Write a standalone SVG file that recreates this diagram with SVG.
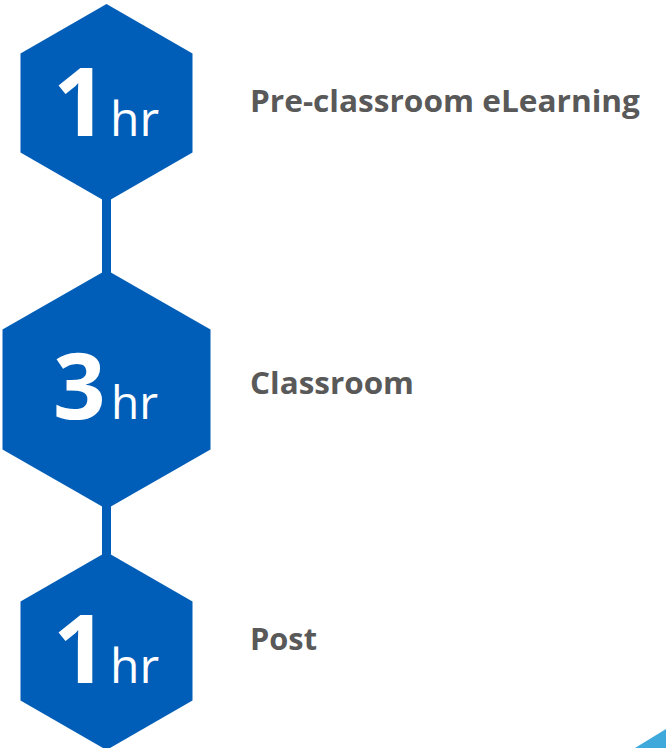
<svg xmlns="http://www.w3.org/2000/svg" width="666" height="748" viewBox="0 0 666 748">
<style>
.hex{fill:#005EB8}
.conn{fill:#005EB8}
.num{font-family:"Open Sans","Liberation Sans",sans-serif;font-weight:700;fill:#fff}
.unit{font-family:"Open Sans","Liberation Sans",sans-serif;font-weight:400;fill:#fff}
.lbl{font-family:"Open Sans","Liberation Sans",sans-serif;font-weight:700;font-size:30px;fill:#595959}
</style>
<rect width="666" height="748" fill="#fff"/>
<g id="connectors">
<rect class="conn" x="102" y="190" width="9" height="90"/>
<rect class="conn" x="102" y="500" width="9" height="60"/>
</g>
<g id="step1">
<polygon class="hex" points="106.5,4 192.5,53.5 192.5,152.5 106.5,202 20.5,152.5 20.5,53.5"/>
<text class="num" x="53" y="136" font-size="95">1</text>
<text class="unit" x="110" y="136" font-size="48">hr</text>
</g>
<g id="step2">
<polygon class="hex" points="106.5,270 210.5,329.5 210.5,449.5 106.5,509 2.5,449.5 2.5,329.5"/>
<text class="num" x="53" y="419" font-size="92">3</text>
<text class="unit" x="111" y="419" font-size="46">hr</text>
</g>
<g id="step3">
<polygon class="hex" points="106.5,552 192.5,601.5 192.5,700.5 106.5,750 20.5,700.5 20.5,601.5"/>
<text class="num" x="53" y="683" font-size="95">1</text>
<text class="unit" x="110" y="683" font-size="48">hr</text>
</g>
<g id="label1"><text class="lbl" x="250" y="112" textLength="390" lengthAdjust="spacingAndGlyphs">Pre-classroom eLearning</text></g>
<g id="label2"><text class="lbl" x="250" y="394" textLength="164" lengthAdjust="spacingAndGlyphs">Classroom</text></g>
<g id="label3"><text class="lbl" x="250" y="650" textLength="67" lengthAdjust="spacingAndGlyphs">Post</text></g>
<polygon points="635,748 666,729 666,748" fill="#3FA9DC"/>
</svg>
